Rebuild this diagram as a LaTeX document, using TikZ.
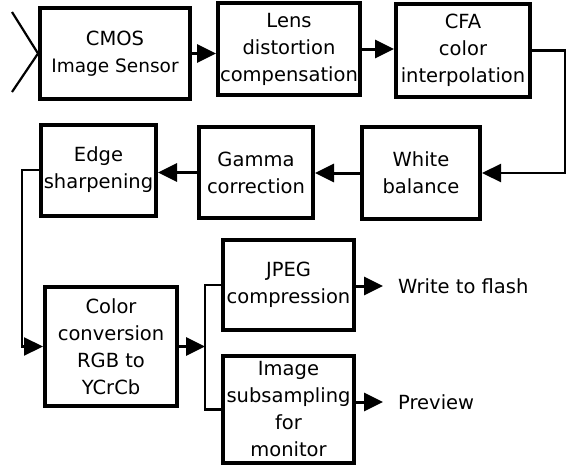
\documentclass[tikz,border=0pt]{standalone}
\usepackage{fontspec}
\setmainfont{DejaVu Sans}
\usetikzlibrary{arrows.meta}

\begin{document}
\begin{tikzpicture}[x=1pt,y=-1pt,
    font=\fontsize{19.5}{27}\selectfont,
    block/.style={draw, line width=4pt, align=center, inner sep=0pt},
    head/.style={-{Triangle[length=19pt,width=18pt]}},
    flow/.style={line width=3pt, head},
    route/.style={line width=2.2pt},
    output/.style={anchor=west, inner xsep=15pt}
]
\useasboundingbox (0,0) rectangle (574,469);

% Top row
\node[block, minimum width=150pt, minimum height=91pt] (cmos) at (115,53.5) {CMOS\\{\fontsize{18.5}{27}\selectfont Image Sensor}};
\node[block, minimum width=142pt, minimum height=92pt] (lens) at (289,49) {Lens\\distortion\\compensation};
\node[block, minimum width=134pt, minimum height=93pt] (cfa) at (463,50.5) {CFA\\color\\interpolation};

% Middle row, right to left
\node[block, minimum width=118pt, minimum height=92pt] (white) at (421,173) {White\\balance};
\node[block, minimum width=114pt, minimum height=91pt] (gamma) at (256,172.5) {Gamma\\correction};
\node[block, minimum width=115pt, minimum height=91pt] (edge) at (98.5,170) {Edge\\sharpening};

% Bottom part
\node[block, minimum width=132pt, minimum height=119pt] (color) at (111,346.5) {Color\\conversion\\RGB to\\YCrCb};
\node[block, minimum width=131pt, minimum height=90pt] (jpeg) at (288.5,285) {JPEG\\compression};
\node[block, minimum width=131pt, minimum height=107pt] (image) at (288.5,409.5) {Image\\subsampling\\for\\monitor};

\node[output] (flash) at (383,286) {Write to flash};
\node[output] (prev) at (383,402) {Preview};

% Sensor input mark
\coordinate (inA) at (12,12);
\coordinate (inB) at (12,92);
\draw[route] (inA) -- (cmos.west) -- (inB);

% Arrows along the rows
\draw[flow] (cmos.east) -- (cmos.east -| lens.west);
\draw[flow] (lens.east) -- (lens.east -| cfa.west);
\draw[flow] (white.west) -- (white.west -| gamma.east);
\draw[flow] (gamma.west) -- (gamma.west -| edge.east);

% Turns between rows
\coordinate (turnR) at (565,110);
\draw[route, head] (cfa.east) -| (turnR) |- (white.east);
\coordinate (turnL) at (22,260);
\draw[route, head] (edge.west) -| (turnL) |- (color.west);

% Split to the two outputs
\coordinate (split) at (205,346.5);
\draw[flow] (color.east) -- (split);
\draw[route] (jpeg.west) -| (split) |- (image.west);

\draw[flow] (jpeg.east |- flash.west) -- (flash.west);
\draw[flow] (image.east |- prev.west) -- (prev.west);

\end{tikzpicture}
\end{document}
